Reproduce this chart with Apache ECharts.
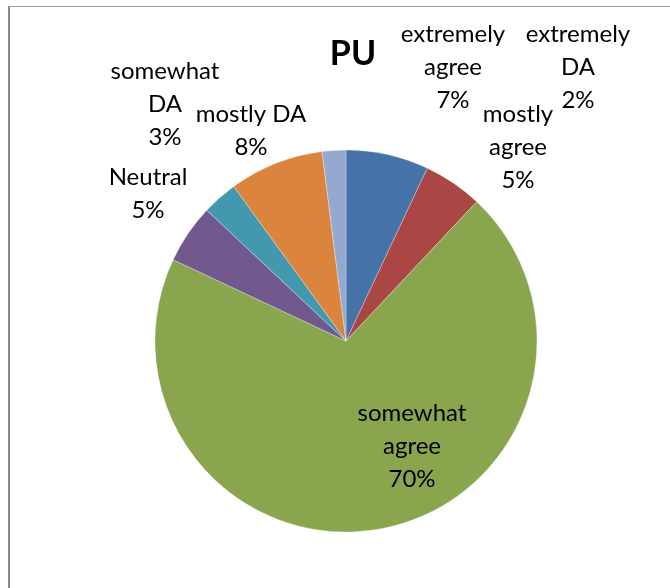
<!DOCTYPE html>
<html>
<head>
<meta charset="utf-8">
<script src="https://cdn.jsdelivr.net/npm/echarts@6/dist/echarts.min.js"></script>
<style>
html,body{margin:0;padding:0;background:#fff;}
#chart{width:670px;height:588px;}
</style>
</head>
<body>
<div id="chart"></div>
<script>
// Data
const categories = ['extremely\nagree', 'mostly\nagree', 'somewhat\nagree', 'Neutral', 'somewhat\nDA', 'mostly DA', 'extremely\nDA'];
const values = [7, 5, 70, 5, 3, 8, 2];
const colors = ['#4572A7', '#AA4643', '#89A54E', '#71588F', '#4198AF', '#DB843D', '#93A9CF'];
const title = 'PU';

// Label anchor positions (layout only)
const labelAnchors = [[453, 67], [518, 147], [412, 446], [148, 194], [165, 104], [251, 131], [578, 67]];

const chart = echarts.init(document.getElementById('chart'));
const FONT = 'Lato, "Open Sans", "Noto Sans", sans-serif';
chart.setOption({
  animation: false,
  backgroundColor: '#fff',
  title: {
    text: title,
    left: 348,
    top: 32,
    textAlign: 'center',
    textStyle: { fontFamily: FONT, fontWeight: 'bold', fontSize: 34, color: '#000' }
  },
  graphic: [
    { type: 'line', shape: { x1: 9, y1: 6, x2: 9, y2: 600 }, style: { stroke: '#898989', lineWidth: 2 } },
    { type: 'line', shape: { x1: 8, y1: 6.5, x2: 680, y2: 6.5 }, style: { stroke: '#9a9a9a', lineWidth: 1 } }
  ],
  series: [{
    type: 'pie',
    center: [346, 341],
    radius: [0, 191],
    startAngle: 90,
    clockwise: true,
    itemStyle: { borderColor: 'rgba(255,255,255,0.6)', borderWidth: 0.5 },
    label: {
      show: true,
      position: 'inside',
      overflow: 'none',
      formatter: p => p.name + '\n' + p.value + '%',
      fontFamily: FONT,
      fontSize: 24,
      lineHeight: 33,
      color: '#000',
      align: 'center'
    },
    labelLine: { show: false },
    labelLayout: p => ({
      x: labelAnchors[p.dataIndex][0],
      y: labelAnchors[p.dataIndex][1],
      align: 'center',
      verticalAlign: 'middle'
    }),
    data: categories.map((c, i) => ({ name: c, value: values[i], itemStyle: { color: colors[i] } }))
  }]
});
</script>
</body>
</html>
